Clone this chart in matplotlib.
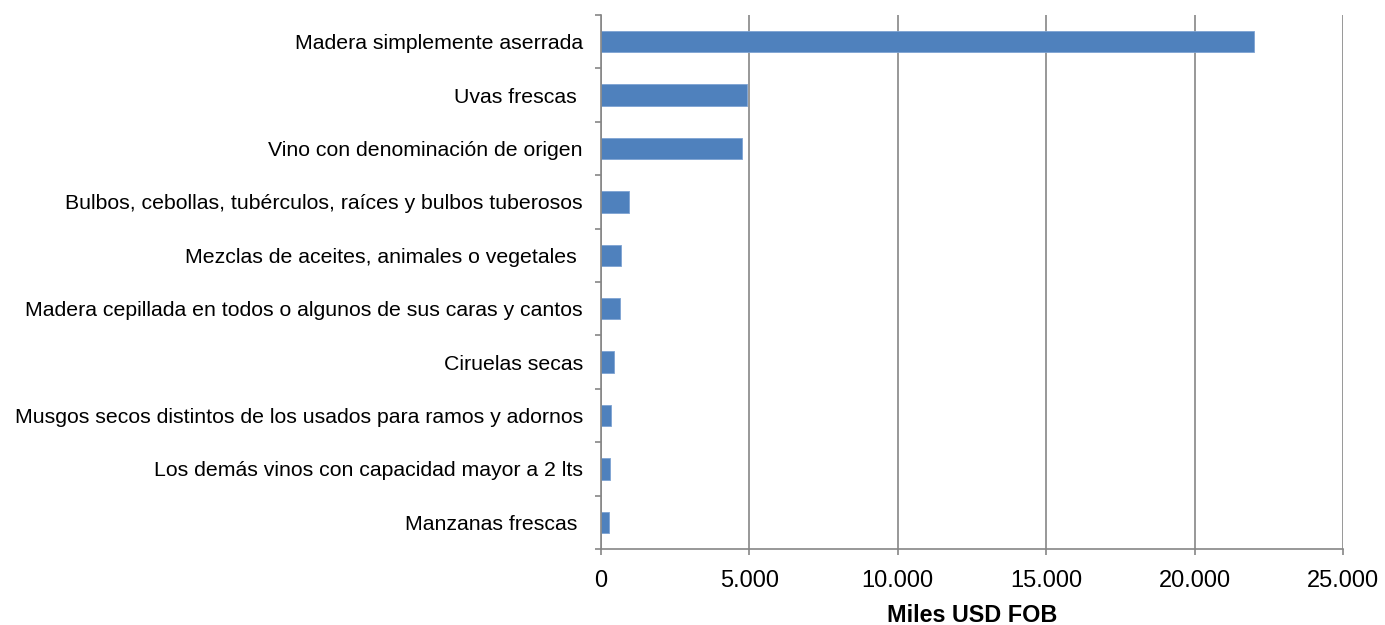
import matplotlib
matplotlib.use("Agg")
import matplotlib.pyplot as plt
from matplotlib.ticker import FuncFormatter, FixedLocator

plt.rcParams['font.family'] = ['Liberation Sans', 'DejaVu Sans']

categories = [
    "Madera simplemente aserrada",
    "Uvas frescas ",
    "Vino con denominación de origen",
    "Bulbos, cebollas, tubérculos, raíces y bulbos tuberosos",
    "Mezclas de aceites, animales o vegetales ",
    "Madera cepillada en todos o algunos de sus caras y cantos",
    "Ciruelas secas",
    "Musgos secos distintos de los usados para ramos y adornos",
    "Los demás vinos con capacidad mayor a 2 lts",
    "Manzanas frescas ",
]
values = [22000, 4910, 4740, 940, 690, 640, 440, 350, 300, 270]
x_ticks = [0, 5000, 10000, 15000, 20000, 25000]
x_label = "Miles USD FOB"

grey = "#868686"
fig = plt.figure(figsize=(13.85, 6.25), dpi=100)
ax = fig.add_axes([601/1385, 1-549/625, (1343-601)/1385, (549-15)/625])

n = len(categories)
ypos = list(range(n))
ax.barh(ypos, values, height=0.4, color="#4F81BD", edgecolor="#7EA3D3", linewidth=0.6, zorder=3)
ax.set_ylim(n - 0.5, -0.5)
ax.set_xlim(x_ticks[0], x_ticks[-1])

ax.set_yticks(ypos)
ax.set_yticklabels(categories, fontsize=15.3)
ax.yaxis.set_minor_locator(FixedLocator([k - 0.5 for k in range(n + 1)]))
ax.tick_params(axis='y', which='major', length=0, pad=13)
ax.tick_params(axis='y', which='minor', length=4, width=1.2, color=grey, direction='out')

ax.set_xticks(x_ticks)
ax.xaxis.set_major_formatter(FuncFormatter(lambda v, p: f"{int(v):,}".replace(",", ".")))
ax.tick_params(axis='x', which='major', length=4, width=1.2, color=grey, direction='out', labelsize=17, pad=11)
ax.set_xlabel(x_label, fontsize=16.8, fontweight='bold', labelpad=9)

ax.grid(axis='x', color=grey, linewidth=1.2, zorder=0)
ax.set_axisbelow(True)
for s in ['top', 'right']:
    ax.spines[s].set_visible(False)
for s in ['left', 'bottom']:
    ax.spines[s].set_color(grey)
    ax.spines[s].set_linewidth(1.2)
    ax.spines[s].set_zorder(4)

fig.savefig("out.png", dpi=100)
